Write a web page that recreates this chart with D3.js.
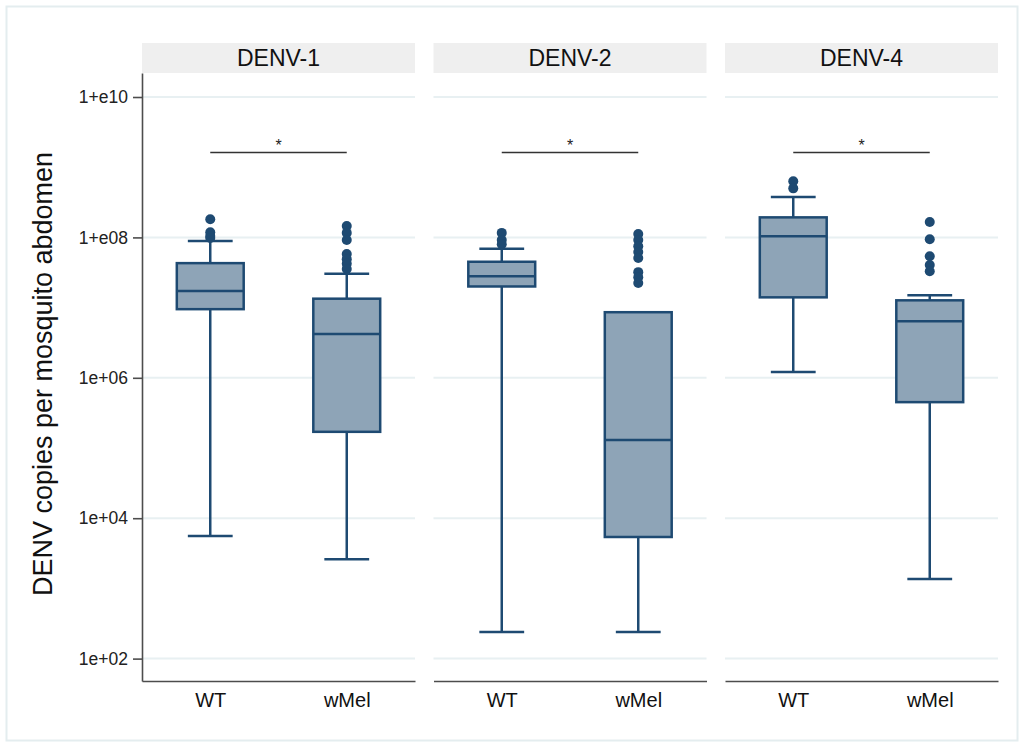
<!DOCTYPE html>
<html>
<head>
<meta charset="utf-8">
<script src="https://cdn.jsdelivr.net/npm/d3@7"></script>
<style>
  body { margin: 0; background: #fff; }
  svg { display: block; font-family: "Liberation Sans", Arial, sans-serif; }
</style>
</head>
<body>
<svg id="chart" width="1023" height="747"></svg>
<script>
// Facets (serotypes) and groups within each facet
const serotypes = ["DENV-1", "DENV-2", "DENV-4"];
const strains = ["WT", "wMel"];

// Box-plot summaries per serotype, each pair ordered [WT, wMel]
const whiskerLow  = [[5.6e3, 2.6e3], [2.4e2, 2.4e2], [1.21e6, 1.36e3]];
const q1          = [[9.5e6, 1.7e5], [2.0e7, 5.4e3], [1.4e7, 4.5e5]];
const median      = [[1.72e7, 4.2e6], [2.8e7, 1.3e5], [1.04e8, 6.4e6]];
const q3          = [[4.3e7, 1.34e7], [4.5e7, 8.6e6], [1.93e8, 1.27e7]];
const whiskerHigh = [[8.9e7, 3.04e7], [6.9e7, 8.6e6], [3.76e8, 1.5e7]];

// Points beyond the whiskers
const outliers = [
  [[1.81e8, 1.18e8, 1.05e8, 9.8e7], [1.45e8, 1.16e8, 9.2e7, 5.8e7, 4.9e7, 4.2e7, 3.55e7]],
  [[1.16e8, 9.2e7, 8.0e7], [1.12e8, 9.2e7, 7.5e7, 6.2e7, 5.1e7, 3.2e7, 2.7e7, 2.24e7]],
  [[6.3e8, 5.0e8], [1.66e8, 9.4e7, 5.4e7, 4.05e7, 3.3e7]]
];

// Significance brackets (height and label) per serotype
const sigLevel = [1.62e9, 1.62e9, 1.62e9];
const sigLabel = ["*", "*", "*"];

// Y axis ticks
const yTicks = [1e2, 1e4, 1e6, 1e8, 1e10];
const yTickLabels = ["1e+02", "1e+04", "1e+06", "1+e08", "1+e10"];
const yTitle = "DENV copies per mosquito abdomen";

const svg = d3.select("#chart");

const plotTop = 73, plotBottom = 681;
const stripTop = 43, stripH = 30;

const fx = d3.scaleBand().domain(serotypes).range([142, 998]).paddingInner(18.5 / 291.5);
const bw = fx.bandwidth();
const x = d3.scalePoint().domain(strains).range([0, bw]).padding(0.5);
const y = d3.scaleLog().domain([Math.pow(10, 1.681), Math.pow(10, 10.342)]).range([plotBottom, plotTop]);

const boxW = x.step() * 0.49;
const capW = boxW * 0.67;

const stroke = "#1e4a72";
const fill = "#8ea4b7";

// outer frame
svg.append("rect")
  .attr("x", 6.5).attr("y", 6.5).attr("width", 1011).attr("height", 734)
  .attr("fill", "none").attr("stroke", "#e4edef").attr("stroke-width", 2);

// y-axis title
svg.append("text")
  .attr("transform", "translate(52," + ((plotTop + plotBottom) / 2 - 3) + ") rotate(-90)")
  .attr("text-anchor", "middle")
  .attr("font-size", 27)
  .attr("fill", "#111")
  .text(yTitle);

serotypes.forEach((s, si) => {
  const g = svg.append("g").attr("transform", "translate(" + fx(s) + ",0)");

  // strip
  g.append("rect").attr("x", 0).attr("y", stripTop).attr("width", bw).attr("height", stripH)
    .attr("fill", "#efefef");
  g.append("text").attr("x", bw / 2).attr("y", stripTop + stripH / 2).attr("dy", "0.36em")
    .attr("text-anchor", "middle").attr("font-size", 23).attr("fill", "#111").text(s);

  // gridlines
  g.selectAll("line.grid").data(yTicks).join("line").attr("class", "grid")
    .attr("x1", 0).attr("x2", bw).attr("y1", d => y(d)).attr("y2", d => y(d))
    .attr("stroke", "#e8f0f2").attr("stroke-width", 2);

  // x axis
  const xa = g.append("g").attr("transform", "translate(0," + plotBottom + ")")
    .call(d3.axisBottom(x).tickSize(0).tickSizeOuter(0).tickPadding(12));
  xa.select(".domain").attr("stroke", "#4d4d4d").attr("stroke-width", 1.6);
  xa.selectAll("text").attr("font-size", 20).attr("fill", "#111").attr("font-family", null);

  // y axis on first facet only
  if (si === 0) {
    const ya = g.append("g")
      .call(d3.axisLeft(y).tickValues(yTicks).tickFormat((d, i) => yTickLabels[i])
        .tickSize(9).tickSizeOuter(0).tickPadding(5));
    ya.select(".domain").attr("stroke", "#4d4d4d").attr("stroke-width", 1.6);
    ya.selectAll(".tick line").attr("stroke", "#4d4d4d").attr("stroke-width", 1.6);
    ya.selectAll("text").attr("font-size", 17.5).attr("fill", "#222").attr("font-family", null);
  }

  // boxes
  strains.forEach((st, gi) => {
    const cx = x(st);
    const bg = g.append("g");
    // whiskers
    bg.append("line").attr("x1", cx).attr("x2", cx)
      .attr("y1", y(whiskerLow[si][gi])).attr("y2", y(q1[si][gi]))
      .attr("stroke", stroke).attr("stroke-width", 2.5);
    bg.append("line").attr("x1", cx).attr("x2", cx)
      .attr("y1", y(q3[si][gi])).attr("y2", y(whiskerHigh[si][gi]))
      .attr("stroke", stroke).attr("stroke-width", 2.5);
    // caps
    [whiskerLow[si][gi], whiskerHigh[si][gi]].forEach(v => {
      bg.append("line").attr("x1", cx - capW / 2).attr("x2", cx + capW / 2)
        .attr("y1", y(v)).attr("y2", y(v))
        .attr("stroke", stroke).attr("stroke-width", 2.5);
    });
    // box
    bg.append("rect").attr("x", cx - boxW / 2).attr("width", boxW)
      .attr("y", y(q3[si][gi])).attr("height", y(q1[si][gi]) - y(q3[si][gi]))
      .attr("fill", fill).attr("stroke", stroke).attr("stroke-width", 2.5);
    // median
    bg.append("line").attr("x1", cx - boxW / 2).attr("x2", cx + boxW / 2)
      .attr("y1", y(median[si][gi])).attr("y2", y(median[si][gi]))
      .attr("stroke", stroke).attr("stroke-width", 2.5);
    // outliers
    bg.selectAll("circle").data(outliers[si][gi]).join("circle")
      .attr("cx", cx).attr("cy", d => y(d)).attr("r", 5)
      .attr("fill", stroke);
  });

  // significance bracket
  const sy = y(sigLevel[si]);
  g.append("line").attr("x1", x(strains[0])).attr("x2", x(strains[1]))
    .attr("y1", sy).attr("y2", sy).attr("stroke", "#333").attr("stroke-width", 1.3);
  g.append("text").attr("x", (x(strains[0]) + x(strains[1])) / 2).attr("y", sy - 2)
    .attr("text-anchor", "middle").attr("font-size", 16).attr("fill", "#222").text(sigLabel[si]);
});
</script>
</body>
</html>
